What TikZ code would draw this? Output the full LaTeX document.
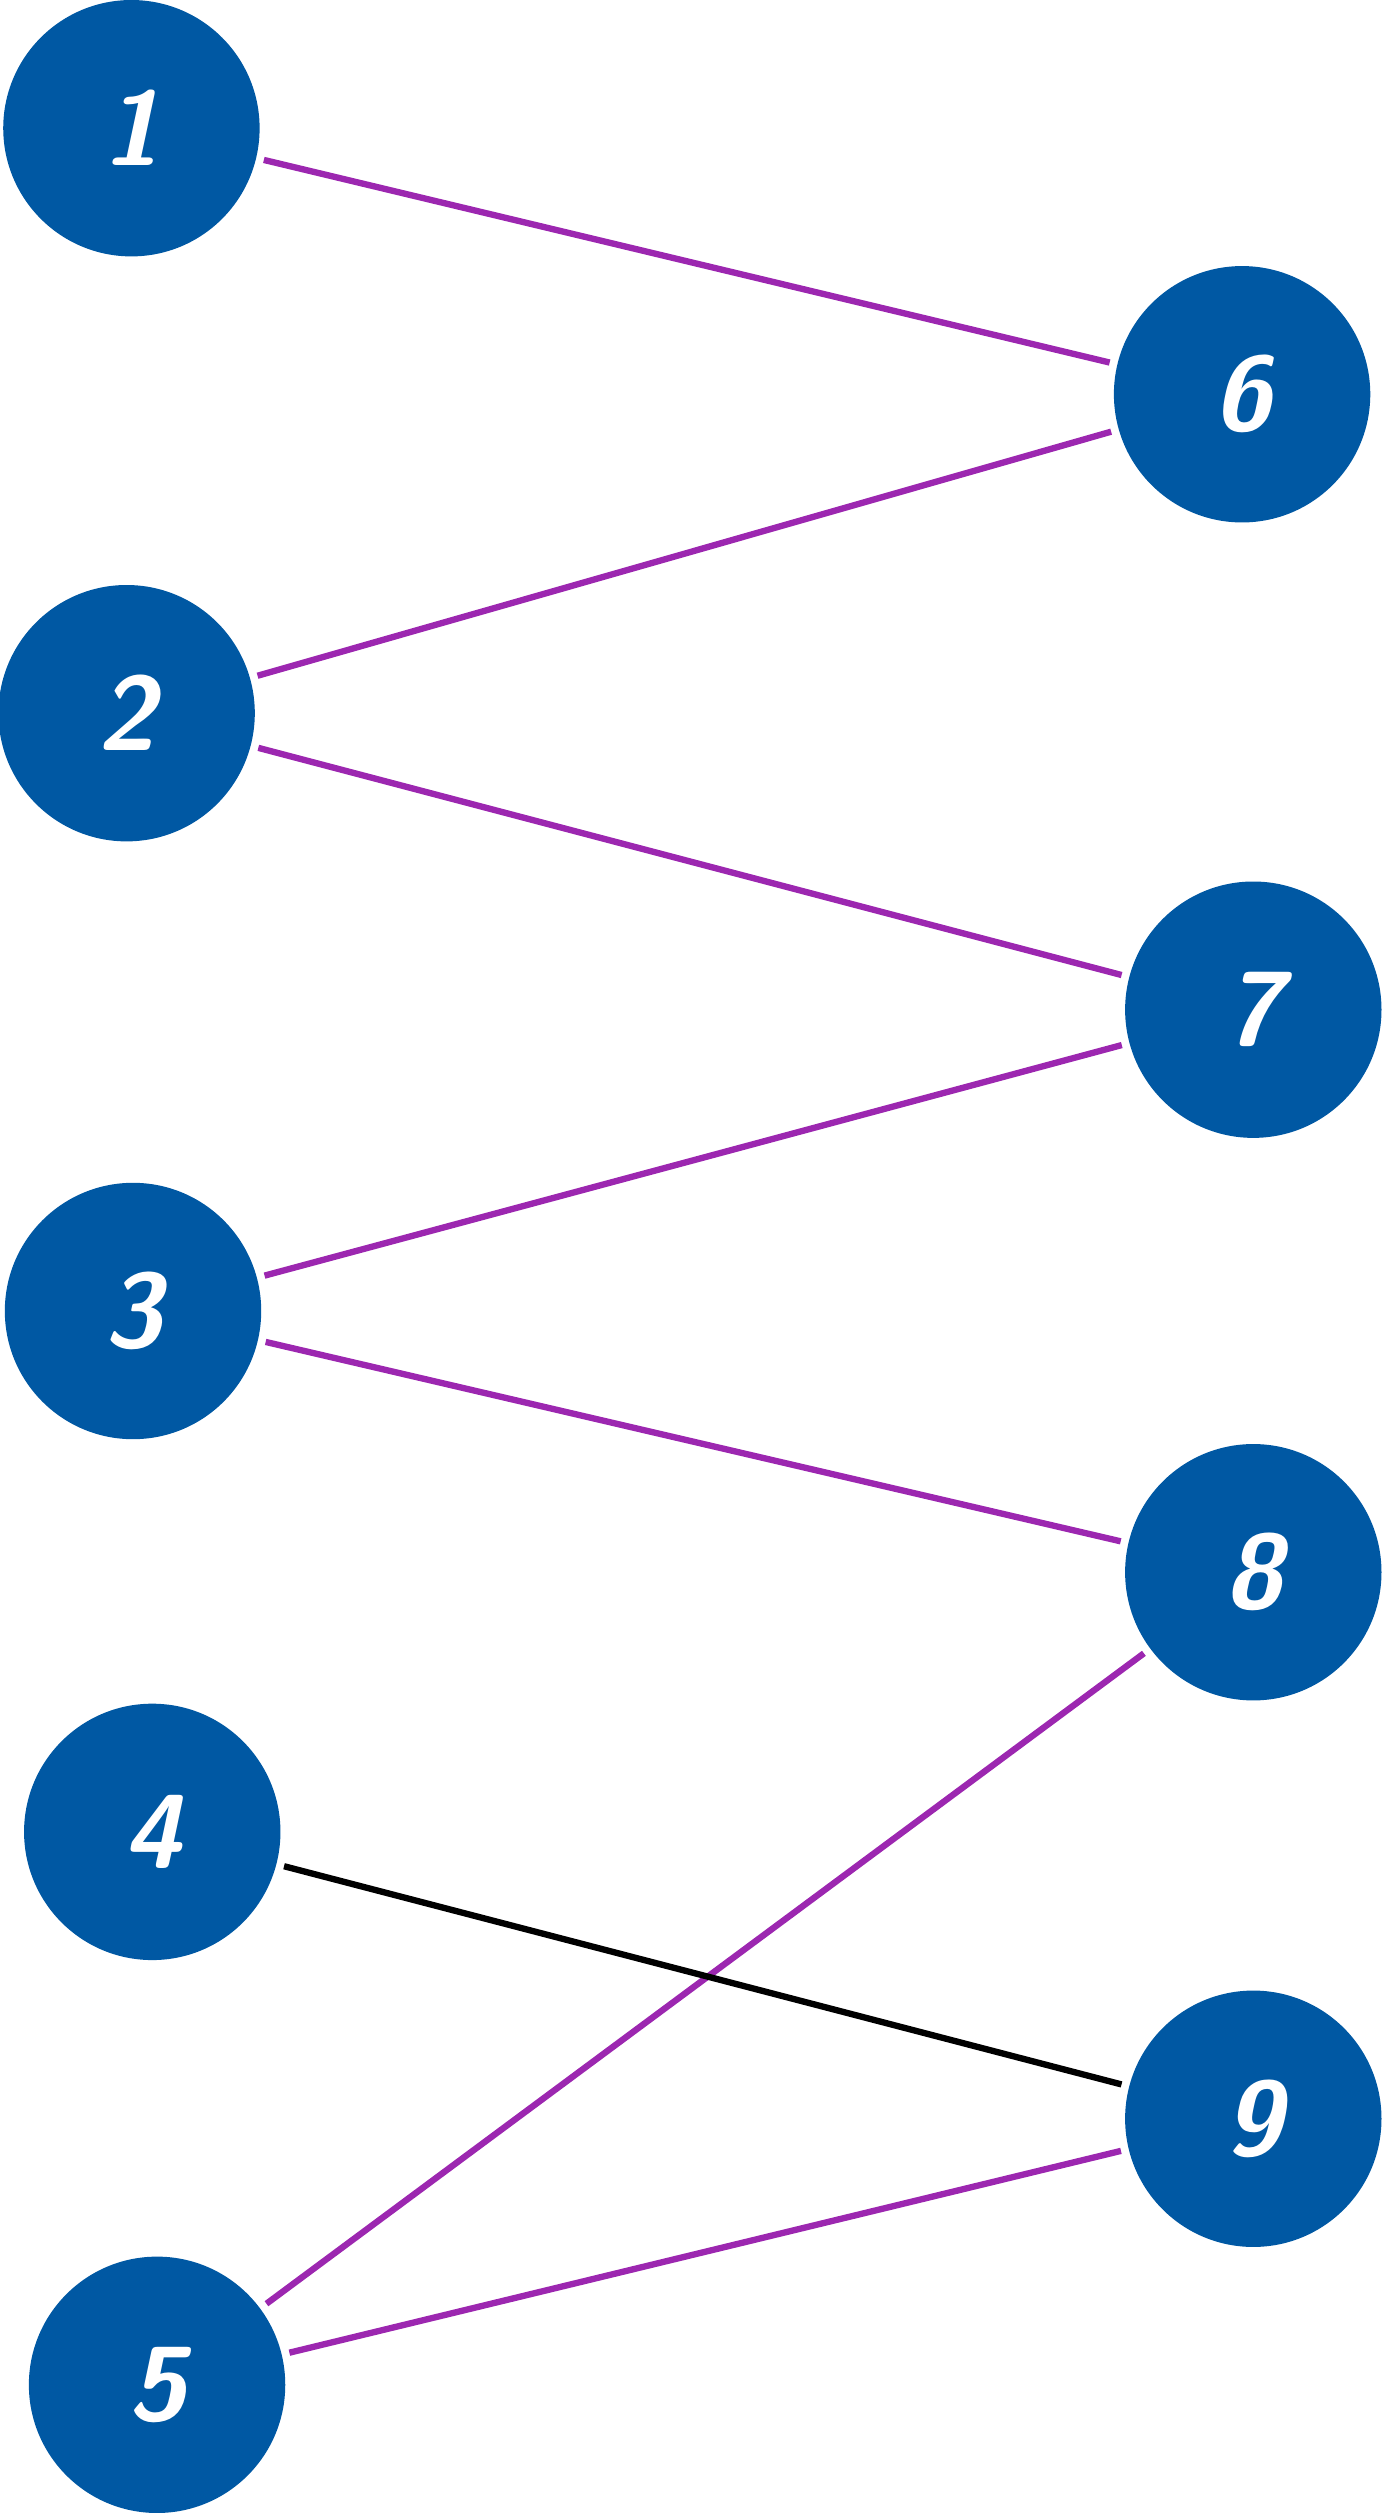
\documentclass[tikz,border=0pt]{standalone}
\usepackage{tikz}
\usetikzlibrary{positioning}
\definecolor{nodeblue}{HTML}{0058A3}
\definecolor{edgepurple}{HTML}{9C27B0}

\begin{document}
\begin{tikzpicture}[x=0.01602cm, y=-0.01602cm,
  vert/.style={circle, fill=nodeblue, text=white, minimum size=2.563cm, inner sep=0pt,
    outer sep=0.08cm, font=\fontsize{30}{30}\selectfont\sffamily\bfseries\itshape},
  edge/.style={line width=1.8pt, edgepurple},
  plain/.style={line width=1.8pt, black}]
\useasboundingbox (0,0) rectangle (862,1568);
\node (n1) [vert] at (82,80) {1};
\node (n2) [vert] at (79,445) {2};
\node (n3) [vert] at (83,818) {3};
\node (n4) [vert] at (95,1143) {4};
\node (n5) [vert] at (98,1488) {5};
\node (n6) [vert] at (775,246) {6};
\node (n7) [vert] at (782,630) {7};
\node (n8) [vert] at (782,981) {8};
\node (n9) [vert] at (782,1322) {9};

\draw[edge] (n1) -- (n6);
\draw[edge] (n2) -- (n6);
\draw[edge] (n2) -- (n7);
\draw[edge] (n3) -- (n7);
\draw[edge] (n3) -- (n8);
\draw[edge] (n5) -- (n8);
\draw[plain] (n4) -- (n9);
\draw[edge] (n5) -- (n9);
\end{tikzpicture}
\end{document}
